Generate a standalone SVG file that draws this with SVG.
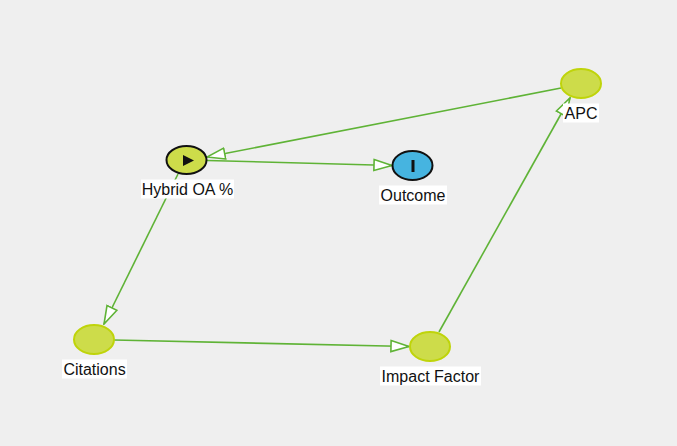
<svg xmlns="http://www.w3.org/2000/svg" width="677" height="446" viewBox="0 0 677 446">
<style>
.edge{stroke:#5fb336;stroke-width:1.6;fill:none}
.var{fill:#cddc4a;stroke:#bfd40a;stroke-width:2}
.exp{fill:#cddc4a;stroke:#111;stroke-width:2}
.out{fill:#46b4e0;stroke:#111;stroke-width:2}
.lbl{font-family:"Liberation Sans",Arial,sans-serif;font-size:16px;fill:#111;text-anchor:middle}
.bg{fill:#ffffff}
</style>
<defs>
<marker id="arr" viewBox="0 0 20 14" refX="19" refY="7" markerWidth="20" markerHeight="14" markerUnits="userSpaceOnUse" orient="auto">
<path d="M1,1.5 L19,7 L1,12.5 Z" fill="#ffffff" stroke="#5fb336" stroke-width="1.6"/>
</marker>
</defs>
<rect width="677" height="446" fill="#efefef"/>
<g id="connectors">
<line class="edge" x1="561" y1="88" x2="207" y2="157" marker-end="url(#arr)"/>
<line class="edge" x1="207" y1="160.5" x2="392" y2="165.5" marker-end="url(#arr)"/>
<line class="edge" x1="178" y1="174" x2="104" y2="324" marker-end="url(#arr)"/>
<line class="edge" x1="114" y1="340" x2="409" y2="346.5" marker-end="url(#arr)"/>
<line class="edge" x1="439" y1="332" x2="570" y2="98" marker-end="url(#arr)"/>
</g>
<g id="node-hybrid">
<ellipse class="exp" cx="186.5" cy="160" rx="20" ry="14"/>
<path d="M183,155 L194,160.5 L183,166 Z" fill="#111"/>
<rect class="bg" x="141" y="179.5" width="93" height="19"/>
<text class="lbl" x="187.5" y="195">Hybrid OA %</text>
</g>
<g id="node-outcome">
<ellipse class="out" cx="412.5" cy="165.5" rx="20" ry="14.5"/>
<rect x="411.5" y="160" width="3" height="12" fill="#111"/>
<rect class="bg" x="379" y="185.5" width="68" height="19"/>
<text class="lbl" x="413" y="201">Outcome</text>
</g>
<g id="node-apc">
<ellipse class="var" cx="581" cy="83.5" rx="20" ry="14.5"/>
<rect class="bg" x="563" y="103.5" width="36" height="19"/>
<text class="lbl" x="581" y="119">APC</text>
</g>
<g id="node-citations">
<ellipse class="var" cx="94" cy="339.5" rx="20" ry="14.5"/>
<rect class="bg" x="62" y="359.5" width="65" height="19"/>
<text class="lbl" x="94.5" y="375">Citations</text>
</g>
<g id="node-impact">
<ellipse class="var" cx="430" cy="346.5" rx="20" ry="14.5"/>
<rect class="bg" x="380" y="366.5" width="101" height="19"/>
<text class="lbl" x="430.5" y="382">Impact Factor</text>
</g>
</svg>
